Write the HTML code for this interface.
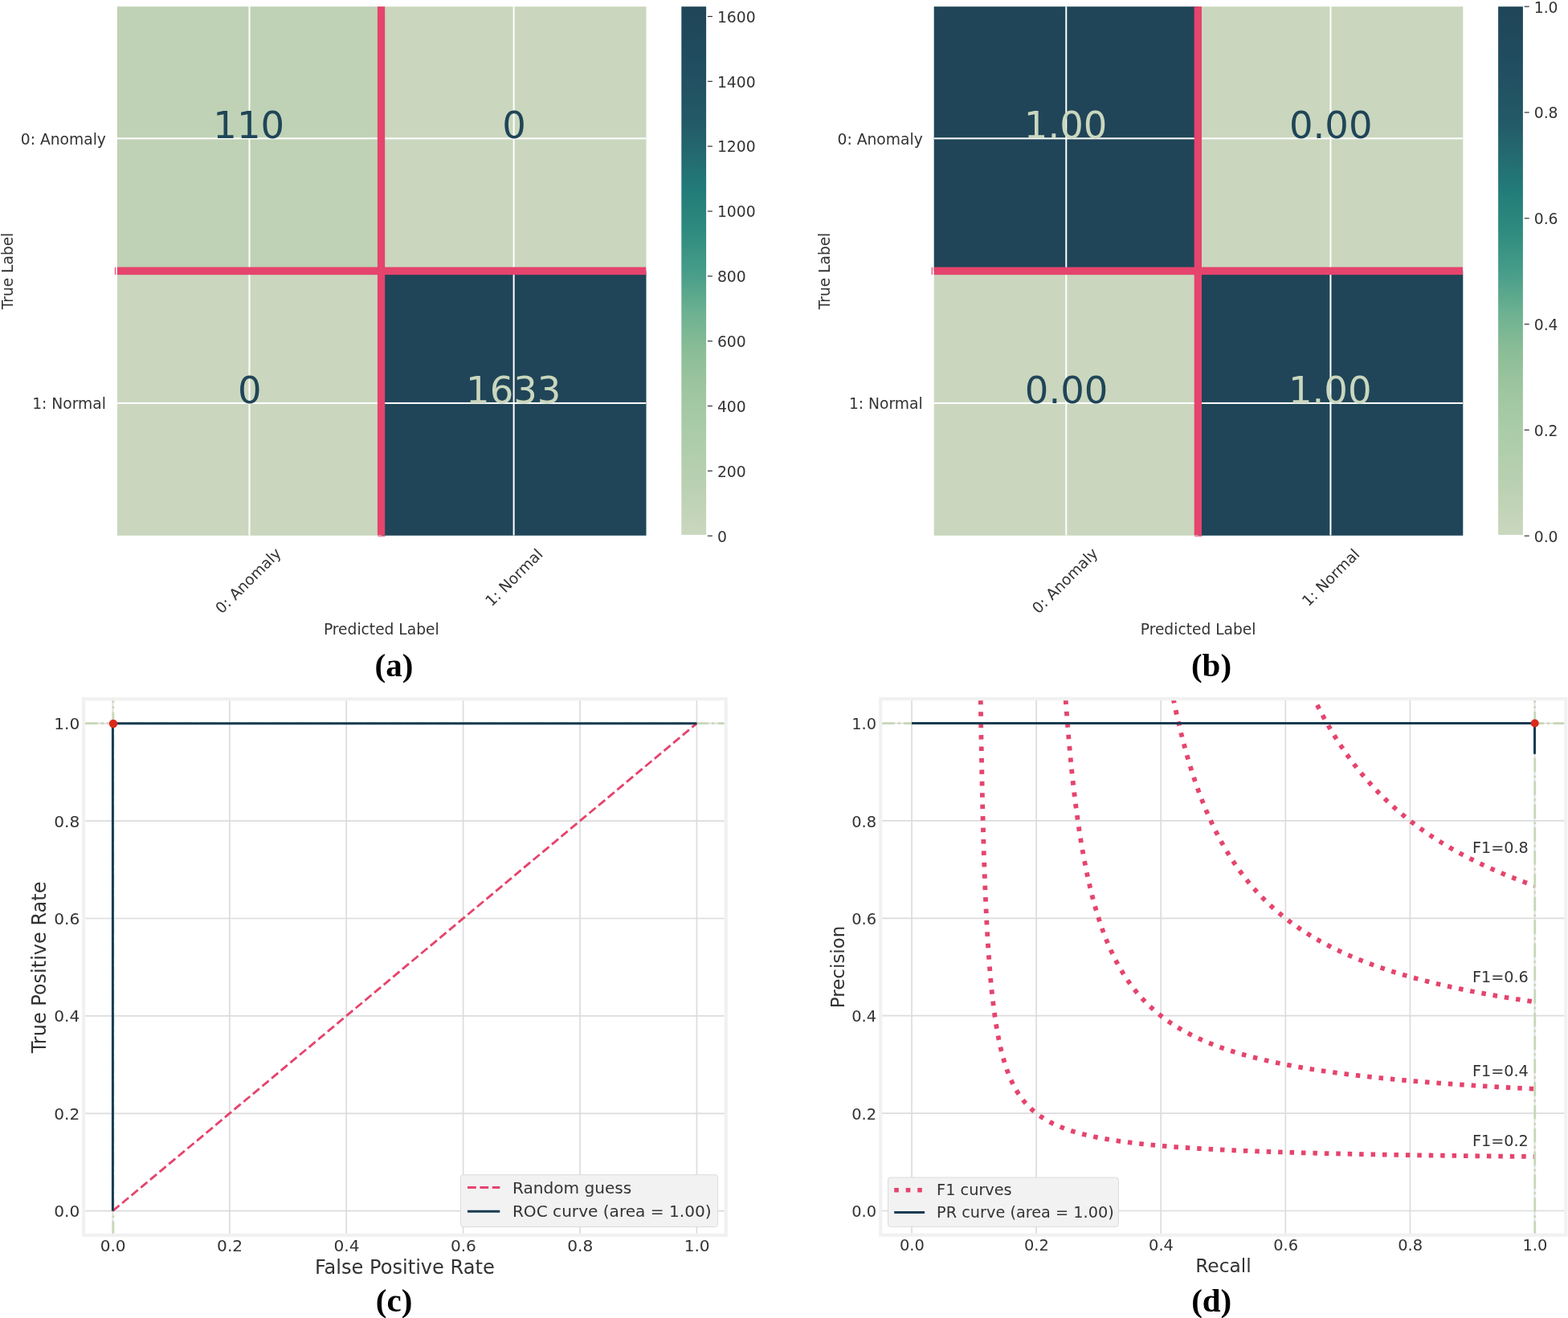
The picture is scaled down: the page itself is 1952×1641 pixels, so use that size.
<!DOCTYPE html>
<html><head><meta charset="utf-8"><title>Figure</title>
<style>html,body{margin:0;padding:0;background:#ffffff;}svg{display:block;}</style>
</head><body>
<svg width="1952" height="1641" viewBox="0 0 1952 1641" font-family="'DejaVu Sans','Liberation Sans',sans-serif">
<defs>
<linearGradient id="cbgrad" x1="0" y1="1" x2="0" y2="0">
<stop offset="0.000" stop-color="#cad7be"/>
<stop offset="0.100" stop-color="#b9d0b1"/>
<stop offset="0.200" stop-color="#aacca8"/>
<stop offset="0.270" stop-color="#9fc6a0"/>
<stop offset="0.350" stop-color="#8abd96"/>
<stop offset="0.420" stop-color="#6cb191"/>
<stop offset="0.500" stop-color="#469c89"/>
<stop offset="0.580" stop-color="#2d8a7e"/>
<stop offset="0.650" stop-color="#237c79"/>
<stop offset="0.780" stop-color="#235a67"/>
<stop offset="0.900" stop-color="#204c5f"/>
<stop offset="1.000" stop-color="#204558"/>
</linearGradient>
<clipPath id="clipc"><rect x="104.05" y="870.35" width="799.7" height="667.4999999999999"/></clipPath>
<clipPath id="clipd"><rect x="1096.2" y="870.15" width="853.0999999999999" height="667.5000000000001"/></clipPath>
</defs>
<rect x="0" y="0" width="1952" height="1641" fill="#ffffff"/>
<g id="hma">
<rect x="145.90" y="8.20" width="329.45" height="329.45" fill="#bfd2b5"/>
<rect x="475.05" y="8.20" width="329.45" height="329.45" fill="#cad7be"/>
<rect x="145.90" y="337.35" width="329.45" height="329.45" fill="#cad7be"/>
<rect x="475.05" y="337.35" width="329.45" height="329.45" fill="#204558"/>
<rect x="309.48" y="8.20" width="2" height="658.30" fill="#ffffff"/>
<rect x="638.62" y="8.20" width="2" height="658.30" fill="#ffffff"/>
<rect x="145.90" y="171.37" width="658.30" height="2" fill="#ffffff"/>
<rect x="145.90" y="500.92" width="658.30" height="2" fill="#ffffff"/>
<text x="309.72" y="172.47" font-size="46.5" text-anchor="middle" fill="#204558">110</text>
<text x="639.96" y="172.47" font-size="46.5" text-anchor="middle" fill="#204558">0</text>
<text x="310.81" y="501.62" font-size="46.5" text-anchor="middle" fill="#204558">0</text>
<text x="639.24" y="501.62" font-size="46.5" text-anchor="middle" fill="#cad7be">1633</text>
<rect x="469.90" y="8.20" width="9.3" height="658.30" fill="#e5446d"/>
<rect x="145.90" y="332.55" width="658.30" height="9.6" fill="#e5446d"/>
<rect x="142.90" y="332.75" width="1.2" height="9.2" fill="#e5446d"/>
<rect x="470.45" y="667.10" width="9.2" height="1.2" fill="#e5446d" opacity="0.7"/>
<text x="131.90" y="179.67" font-size="18.7" text-anchor="end" fill="#333333">0: Anomaly</text>
<text x="131.90" y="508.92" font-size="18.7" text-anchor="end" fill="#333333">1: Normal</text>
<text transform="translate(309.90,723.90) rotate(-45)" x="0" y="5.19" font-size="18.7" text-anchor="middle" fill="#333333">0: Anomaly</text>
<text transform="translate(639.50,718.70) rotate(-45)" x="0" y="7.01" font-size="18.7" text-anchor="middle" fill="#333333">1: Normal</text>
<text x="474.80" y="790.20" font-size="18.65" text-anchor="middle" fill="#333333">Predicted Label</text>
<text transform="translate(15.90,337.5) rotate(-90)" x="0" y="0" font-size="18.6" text-anchor="middle" fill="#333333">True Label</text>
<rect x="848.30" y="8.20" width="30.80" height="657.70" fill="url(#cbgrad)"/>
<rect x="880.90" y="666.60" width="6.0" height="1.2" fill="#333333"/>
<text x="892.90" y="674.50" font-size="18.8" text-anchor="start" fill="#333333">0</text>
<rect x="880.90" y="585.76" width="6.0" height="1.2" fill="#333333"/>
<text x="892.90" y="593.66" font-size="18.8" text-anchor="start" fill="#333333">200</text>
<rect x="880.90" y="504.92" width="6.0" height="1.2" fill="#333333"/>
<text x="892.90" y="512.82" font-size="18.8" text-anchor="start" fill="#333333">400</text>
<rect x="880.90" y="424.09" width="6.0" height="1.2" fill="#333333"/>
<text x="892.90" y="431.99" font-size="18.8" text-anchor="start" fill="#333333">600</text>
<rect x="880.90" y="343.25" width="6.0" height="1.2" fill="#333333"/>
<text x="892.90" y="351.15" font-size="18.8" text-anchor="start" fill="#333333">800</text>
<rect x="880.90" y="262.41" width="6.0" height="1.2" fill="#333333"/>
<text x="892.90" y="270.31" font-size="18.8" text-anchor="start" fill="#333333">1000</text>
<rect x="880.90" y="181.57" width="6.0" height="1.2" fill="#333333"/>
<text x="892.90" y="189.47" font-size="18.8" text-anchor="start" fill="#333333">1200</text>
<rect x="880.90" y="100.73" width="6.0" height="1.2" fill="#333333"/>
<text x="892.90" y="108.63" font-size="18.8" text-anchor="start" fill="#333333">1400</text>
<rect x="880.90" y="19.90" width="6.0" height="1.2" fill="#333333"/>
<text x="892.90" y="27.80" font-size="18.8" text-anchor="start" fill="#333333">1600</text>
</g>
<g id="hmb">
<rect x="1162.70" y="8.20" width="329.45" height="329.45" fill="#204558"/>
<rect x="1491.85" y="8.20" width="329.45" height="329.45" fill="#cad7be"/>
<rect x="1162.70" y="337.35" width="329.45" height="329.45" fill="#cad7be"/>
<rect x="1491.85" y="337.35" width="329.45" height="329.45" fill="#204558"/>
<rect x="1326.28" y="8.20" width="2" height="658.30" fill="#ffffff"/>
<rect x="1655.42" y="8.20" width="2" height="658.30" fill="#ffffff"/>
<rect x="1162.70" y="171.37" width="658.30" height="2" fill="#ffffff"/>
<rect x="1162.70" y="500.92" width="658.30" height="2" fill="#ffffff"/>
<text x="1326.58" y="172.47" font-size="46.5" text-anchor="middle" fill="#cad7be">1.00</text>
<text x="1656.78" y="172.47" font-size="46.5" text-anchor="middle" fill="#204558">0.00</text>
<text x="1327.63" y="501.62" font-size="46.5" text-anchor="middle" fill="#204558">0.00</text>
<text x="1655.73" y="501.62" font-size="46.5" text-anchor="middle" fill="#cad7be">1.00</text>
<rect x="1486.70" y="8.20" width="9.3" height="658.30" fill="#e5446d"/>
<rect x="1162.70" y="332.55" width="658.30" height="9.6" fill="#e5446d"/>
<rect x="1159.70" y="332.75" width="1.2" height="9.2" fill="#e5446d"/>
<rect x="1487.25" y="667.10" width="9.2" height="1.2" fill="#e5446d" opacity="0.7"/>
<text x="1148.70" y="179.67" font-size="18.7" text-anchor="end" fill="#333333">0: Anomaly</text>
<text x="1148.70" y="508.92" font-size="18.7" text-anchor="end" fill="#333333">1: Normal</text>
<text transform="translate(1326.70,723.90) rotate(-45)" x="0" y="5.19" font-size="18.7" text-anchor="middle" fill="#333333">0: Anomaly</text>
<text transform="translate(1656.30,718.70) rotate(-45)" x="0" y="7.01" font-size="18.7" text-anchor="middle" fill="#333333">1: Normal</text>
<text x="1491.60" y="790.20" font-size="18.65" text-anchor="middle" fill="#333333">Predicted Label</text>
<text transform="translate(1032.70,337.5) rotate(-90)" x="0" y="0" font-size="18.6" text-anchor="middle" fill="#333333">True Label</text>
<rect x="1865.10" y="8.20" width="30.80" height="657.70" fill="url(#cbgrad)"/>
<rect x="1897.70" y="666.60" width="6.0" height="1.2" fill="#333333"/>
<text x="1909.70" y="674.50" font-size="18.8" text-anchor="start" fill="#333333">0.0</text>
<rect x="1897.70" y="534.80" width="6.0" height="1.2" fill="#333333"/>
<text x="1909.70" y="542.70" font-size="18.8" text-anchor="start" fill="#333333">0.2</text>
<rect x="1897.70" y="403.00" width="6.0" height="1.2" fill="#333333"/>
<text x="1909.70" y="410.90" font-size="18.8" text-anchor="start" fill="#333333">0.4</text>
<rect x="1897.70" y="271.20" width="6.0" height="1.2" fill="#333333"/>
<text x="1909.70" y="279.10" font-size="18.8" text-anchor="start" fill="#333333">0.6</text>
<rect x="1897.70" y="139.40" width="6.0" height="1.2" fill="#333333"/>
<text x="1909.70" y="147.30" font-size="18.8" text-anchor="start" fill="#333333">0.8</text>
<rect x="1897.70" y="7.60" width="6.0" height="1.2" fill="#333333"/>
<text x="1909.70" y="15.50" font-size="18.8" text-anchor="start" fill="#333333">1.0</text>
</g>
<g id="roc">
<line x1="140.40" y1="870.35" x2="140.40" y2="1537.85" stroke="#dcdcdc" stroke-width="1.7"/>
<line x1="285.80" y1="870.35" x2="285.80" y2="1537.85" stroke="#dcdcdc" stroke-width="1.7"/>
<line x1="431.20" y1="870.35" x2="431.20" y2="1537.85" stroke="#dcdcdc" stroke-width="1.7"/>
<line x1="576.60" y1="870.35" x2="576.60" y2="1537.85" stroke="#dcdcdc" stroke-width="1.7"/>
<line x1="722.00" y1="870.35" x2="722.00" y2="1537.85" stroke="#dcdcdc" stroke-width="1.7"/>
<line x1="867.40" y1="870.35" x2="867.40" y2="1537.85" stroke="#dcdcdc" stroke-width="1.7"/>
<line x1="104.05" y1="1507.70" x2="903.75" y2="1507.70" stroke="#dcdcdc" stroke-width="1.7"/>
<line x1="104.05" y1="1386.30" x2="903.75" y2="1386.30" stroke="#dcdcdc" stroke-width="1.7"/>
<line x1="104.05" y1="1264.90" x2="903.75" y2="1264.90" stroke="#dcdcdc" stroke-width="1.7"/>
<line x1="104.05" y1="1143.50" x2="903.75" y2="1143.50" stroke="#dcdcdc" stroke-width="1.7"/>
<line x1="104.05" y1="1022.10" x2="903.75" y2="1022.10" stroke="#dcdcdc" stroke-width="1.7"/>
<line x1="104.05" y1="900.70" x2="903.75" y2="900.70" stroke="#dcdcdc" stroke-width="1.7"/>
<text x="140.70" y="1558.00" font-size="20.1" text-anchor="middle" fill="#333333">0.0</text>
<text x="99.30" y="1515.14" font-size="20.1" text-anchor="end" fill="#333333">0.0</text>
<text x="286.10" y="1558.00" font-size="20.1" text-anchor="middle" fill="#333333">0.2</text>
<text x="99.30" y="1393.74" font-size="20.1" text-anchor="end" fill="#333333">0.2</text>
<text x="431.50" y="1558.00" font-size="20.1" text-anchor="middle" fill="#333333">0.4</text>
<text x="99.30" y="1272.34" font-size="20.1" text-anchor="end" fill="#333333">0.4</text>
<text x="576.90" y="1558.00" font-size="20.1" text-anchor="middle" fill="#333333">0.6</text>
<text x="99.30" y="1150.94" font-size="20.1" text-anchor="end" fill="#333333">0.6</text>
<text x="722.30" y="1558.00" font-size="20.1" text-anchor="middle" fill="#333333">0.8</text>
<text x="99.30" y="1029.54" font-size="20.1" text-anchor="end" fill="#333333">0.8</text>
<text x="867.70" y="1558.00" font-size="20.1" text-anchor="middle" fill="#333333">1.0</text>
<text x="99.30" y="908.14" font-size="20.1" text-anchor="end" fill="#333333">1.0</text>
<g clip-path="url(#clipc)">
<line x1="140.90" y1="1537.85" x2="140.90" y2="870.35" stroke="#c6d8b8" stroke-width="2.75" stroke-dasharray="17.4 4.35 2.72 4.35"/>
<line x1="104.05" y1="900.70" x2="903.75" y2="900.70" stroke="#c6d8b8" stroke-width="2.75" stroke-dasharray="17.66 4.41 2.76 4.41"/>
<line x1="140.40" y1="1507.70" x2="867.40" y2="900.70" stroke="#e5446d" stroke-width="2.86" stroke-dasharray="10.55 4.6"/>
<path d="M140.40,1507.70 L140.40,900.70 L867.40,900.70" fill="none" stroke="#183b52" stroke-width="3" stroke-linejoin="round"/>
<circle cx="141.00" cy="900.95" r="5.2" fill="#db2a1c"/>
</g>
<rect x="104.05" y="870.35" width="799.70" height="667.50" fill="none" stroke="#f1f1f1" stroke-width="4.2"/>
<rect x="573.5" y="1462.7" width="320.1" height="64.8" rx="3" ry="3" fill="#f2f2f2" stroke="#dcdcdc" stroke-width="1"/>
<line x1="582" y1="1478.6" x2="622.3" y2="1478.6" stroke="#e5446d" stroke-width="3" stroke-dasharray="10.8 4.6"/>
<line x1="582" y1="1508.3" x2="622.3" y2="1508.3" stroke="#183b52" stroke-width="3"/>
<text x="637.90" y="1486.10" font-size="20.1" text-anchor="start" fill="#333333">Random guess</text>
<text x="637.90" y="1515.20" font-size="20.1" text-anchor="start" fill="#333333">ROC curve (area = 1.00)</text>
<text x="503.90" y="1586.30" font-size="24.1" text-anchor="middle" fill="#333333">False Positive Rate</text>
<text transform="translate(57.4,1204.4) rotate(-90)" x="0" y="0" font-size="24" text-anchor="middle" fill="#333333">True Positive Rate</text>
</g>
<g id="pr">
<line x1="1135.00" y1="870.15" x2="1135.00" y2="1537.65" stroke="#dcdcdc" stroke-width="1.7"/>
<line x1="1290.10" y1="870.15" x2="1290.10" y2="1537.65" stroke="#dcdcdc" stroke-width="1.7"/>
<line x1="1445.20" y1="870.15" x2="1445.20" y2="1537.65" stroke="#dcdcdc" stroke-width="1.7"/>
<line x1="1600.30" y1="870.15" x2="1600.30" y2="1537.65" stroke="#dcdcdc" stroke-width="1.7"/>
<line x1="1755.40" y1="870.15" x2="1755.40" y2="1537.65" stroke="#dcdcdc" stroke-width="1.7"/>
<line x1="1910.50" y1="870.15" x2="1910.50" y2="1537.65" stroke="#dcdcdc" stroke-width="1.7"/>
<line x1="1096.20" y1="1507.50" x2="1949.30" y2="1507.50" stroke="#dcdcdc" stroke-width="1.7"/>
<line x1="1096.20" y1="1386.10" x2="1949.30" y2="1386.10" stroke="#dcdcdc" stroke-width="1.7"/>
<line x1="1096.20" y1="1264.70" x2="1949.30" y2="1264.70" stroke="#dcdcdc" stroke-width="1.7"/>
<line x1="1096.20" y1="1143.30" x2="1949.30" y2="1143.30" stroke="#dcdcdc" stroke-width="1.7"/>
<line x1="1096.20" y1="1021.90" x2="1949.30" y2="1021.90" stroke="#dcdcdc" stroke-width="1.7"/>
<line x1="1096.20" y1="900.50" x2="1949.30" y2="900.50" stroke="#dcdcdc" stroke-width="1.7"/>
<text x="1135.30" y="1556.70" font-size="19.4" text-anchor="middle" fill="#333333">0.0</text>
<text x="1091.00" y="1515.28" font-size="19.4" text-anchor="end" fill="#333333">0.0</text>
<text x="1290.40" y="1556.70" font-size="19.4" text-anchor="middle" fill="#333333">0.2</text>
<text x="1091.00" y="1393.88" font-size="19.4" text-anchor="end" fill="#333333">0.2</text>
<text x="1445.50" y="1556.70" font-size="19.4" text-anchor="middle" fill="#333333">0.4</text>
<text x="1091.00" y="1272.48" font-size="19.4" text-anchor="end" fill="#333333">0.4</text>
<text x="1600.60" y="1556.70" font-size="19.4" text-anchor="middle" fill="#333333">0.6</text>
<text x="1091.00" y="1151.08" font-size="19.4" text-anchor="end" fill="#333333">0.6</text>
<text x="1755.70" y="1556.70" font-size="19.4" text-anchor="middle" fill="#333333">0.8</text>
<text x="1091.00" y="1029.68" font-size="19.4" text-anchor="end" fill="#333333">0.8</text>
<text x="1910.80" y="1556.70" font-size="19.4" text-anchor="middle" fill="#333333">1.0</text>
<text x="1091.00" y="908.28" font-size="19.4" text-anchor="end" fill="#333333">1.0</text>
<g clip-path="url(#clipd)">
<polyline points="1219.60,779.10 1221.33,910.49 1223.05,998.68 1224.78,1061.96 1226.51,1109.58 1228.24,1146.71 1229.96,1176.48 1231.69,1200.87 1233.42,1221.23 1235.15,1238.47 1236.87,1253.26 1238.60,1266.10 1240.33,1277.33 1242.05,1287.25 1243.78,1296.08 1245.51,1303.98 1247.24,1311.09 1248.96,1317.53 1250.69,1323.38 1252.42,1328.73 1254.14,1333.63 1255.87,1338.14 1257.60,1342.31 1259.33,1346.17 1261.05,1349.75 1262.78,1353.09 1264.51,1356.20 1266.24,1359.12 1267.96,1361.85 1269.69,1364.42 1271.42,1366.84 1273.14,1369.12 1274.87,1371.27 1276.60,1373.31 1278.33,1375.24 1280.05,1377.07 1281.78,1378.81 1283.51,1380.46 1285.24,1382.04 1286.96,1383.54 1288.69,1384.98 1290.42,1386.35 1292.14,1387.66 1293.87,1388.92 1295.60,1390.12 1297.33,1391.27 1299.05,1392.38 1300.78,1393.45 1302.51,1394.47 1304.24,1395.46 1305.96,1396.41 1307.69,1397.32 1309.42,1398.20 1311.14,1399.06 1312.87,1399.88 1314.60,1400.67 1316.33,1401.44 1318.05,1402.18 1319.78,1402.90 1321.51,1403.60 1323.24,1404.27 1324.96,1404.92 1326.69,1405.56 1328.42,1406.17 1330.14,1406.77 1331.87,1407.35 1333.60,1407.91 1335.33,1408.46 1337.05,1408.99 1338.78,1409.51 1340.51,1410.01 1342.23,1410.50 1343.96,1410.98 1345.69,1411.44 1347.42,1411.90 1349.14,1412.34 1350.87,1412.77 1352.60,1413.19 1354.33,1413.60 1356.05,1414.00 1357.78,1414.39 1359.51,1414.77 1361.23,1415.14 1362.96,1415.50 1364.69,1415.86 1366.42,1416.21 1368.14,1416.55 1369.87,1416.88 1371.60,1417.20 1373.33,1417.52 1375.05,1417.83 1376.78,1418.14 1378.51,1418.44 1380.23,1418.73 1381.96,1419.01 1383.69,1419.29 1385.42,1419.57 1387.14,1419.84 1388.87,1420.10 1390.60,1420.36 1392.33,1420.62 1394.05,1420.86 1395.78,1421.11 1397.51,1421.35 1399.23,1421.58 1400.96,1421.82 1402.69,1422.04 1404.42,1422.27 1406.14,1422.48 1407.87,1422.70 1409.60,1422.91 1411.32,1423.12 1413.05,1423.32 1414.78,1423.52 1416.51,1423.72 1418.23,1423.91 1419.96,1424.10 1421.69,1424.29 1423.42,1424.48 1425.14,1424.66 1426.87,1424.84 1428.60,1425.01 1430.32,1425.18 1432.05,1425.35 1433.78,1425.52 1435.51,1425.69 1437.23,1425.85 1438.96,1426.01 1440.69,1426.17 1442.42,1426.32 1444.14,1426.47 1445.87,1426.62 1447.60,1426.77 1449.32,1426.92 1451.05,1427.06 1452.78,1427.20 1454.51,1427.34 1456.23,1427.48 1457.96,1427.62 1459.69,1427.75 1461.41,1427.88 1463.14,1428.02 1464.87,1428.14 1466.60,1428.27 1468.32,1428.40 1470.05,1428.52 1471.78,1428.64 1473.51,1428.76 1475.23,1428.88 1476.96,1429.00 1478.69,1429.11 1480.41,1429.23 1482.14,1429.34 1483.87,1429.45 1485.60,1429.56 1487.32,1429.67 1489.05,1429.78 1490.78,1429.88 1492.51,1429.99 1494.23,1430.09 1495.96,1430.19 1497.69,1430.29 1499.41,1430.39 1501.14,1430.49 1502.87,1430.59 1504.60,1430.68 1506.32,1430.78 1508.05,1430.87 1509.78,1430.96 1511.51,1431.05 1513.23,1431.14 1514.96,1431.23 1516.69,1431.32 1518.41,1431.41 1520.14,1431.50 1521.87,1431.58 1523.60,1431.67 1525.32,1431.75 1527.05,1431.83 1528.78,1431.91 1530.51,1432.00 1532.23,1432.08 1533.96,1432.15 1535.69,1432.23 1537.41,1432.31 1539.14,1432.39 1540.87,1432.46 1542.60,1432.54 1544.32,1432.61 1546.05,1432.69 1547.78,1432.76 1549.50,1432.83 1551.23,1432.90 1552.96,1432.97 1554.69,1433.04 1556.41,1433.11 1558.14,1433.18 1559.87,1433.25 1561.60,1433.31 1563.32,1433.38 1565.05,1433.45 1566.78,1433.51 1568.50,1433.58 1570.23,1433.64 1571.96,1433.70 1573.69,1433.77 1575.41,1433.83 1577.14,1433.89 1578.87,1433.95 1580.60,1434.01 1582.32,1434.07 1584.05,1434.13 1585.78,1434.19 1587.50,1434.25 1589.23,1434.30 1590.96,1434.36 1592.69,1434.42 1594.41,1434.47 1596.14,1434.53 1597.87,1434.58 1599.60,1434.64 1601.32,1434.69 1603.05,1434.75 1604.78,1434.80 1606.50,1434.85 1608.23,1434.90 1609.96,1434.96 1611.69,1435.01 1613.41,1435.06 1615.14,1435.11 1616.87,1435.16 1618.59,1435.21 1620.32,1435.26 1622.05,1435.30 1623.78,1435.35 1625.50,1435.40 1627.23,1435.45 1628.96,1435.50 1630.69,1435.54 1632.41,1435.59 1634.14,1435.63 1635.87,1435.68 1637.59,1435.73 1639.32,1435.77 1641.05,1435.81 1642.78,1435.86 1644.50,1435.90 1646.23,1435.95 1647.96,1435.99 1649.69,1436.03 1651.41,1436.07 1653.14,1436.12 1654.87,1436.16 1656.59,1436.20 1658.32,1436.24 1660.05,1436.28 1661.78,1436.32 1663.50,1436.36 1665.23,1436.40 1666.96,1436.44 1668.68,1436.48 1670.41,1436.52 1672.14,1436.56 1673.87,1436.60 1675.59,1436.63 1677.32,1436.67 1679.05,1436.71 1680.78,1436.75 1682.50,1436.78 1684.23,1436.82 1685.96,1436.86 1687.68,1436.89 1689.41,1436.93 1691.14,1436.96 1692.87,1437.00 1694.59,1437.03 1696.32,1437.07 1698.05,1437.10 1699.78,1437.14 1701.50,1437.17 1703.23,1437.21 1704.96,1437.24 1706.68,1437.27 1708.41,1437.31 1710.14,1437.34 1711.87,1437.37 1713.59,1437.41 1715.32,1437.44 1717.05,1437.47 1718.78,1437.50 1720.50,1437.53 1722.23,1437.56 1723.96,1437.60 1725.68,1437.63 1727.41,1437.66 1729.14,1437.69 1730.87,1437.72 1732.59,1437.75 1734.32,1437.78 1736.05,1437.81 1737.78,1437.84 1739.50,1437.87 1741.23,1437.90 1742.96,1437.93 1744.68,1437.95 1746.41,1437.98 1748.14,1438.01 1749.87,1438.04 1751.59,1438.07 1753.32,1438.10 1755.05,1438.12 1756.77,1438.15 1758.50,1438.18 1760.23,1438.21 1761.96,1438.23 1763.68,1438.26 1765.41,1438.29 1767.14,1438.31 1768.87,1438.34 1770.59,1438.36 1772.32,1438.39 1774.05,1438.42 1775.77,1438.44 1777.50,1438.47 1779.23,1438.49 1780.96,1438.52 1782.68,1438.54 1784.41,1438.57 1786.14,1438.59 1787.87,1438.62 1789.59,1438.64 1791.32,1438.67 1793.05,1438.69 1794.77,1438.71 1796.50,1438.74 1798.23,1438.76 1799.96,1438.79 1801.68,1438.81 1803.41,1438.83 1805.14,1438.86 1806.87,1438.88 1808.59,1438.90 1810.32,1438.93 1812.05,1438.95 1813.77,1438.97 1815.50,1438.99 1817.23,1439.02 1818.96,1439.04 1820.68,1439.06 1822.41,1439.08 1824.14,1439.10 1825.86,1439.12 1827.59,1439.15 1829.32,1439.17 1831.05,1439.19 1832.77,1439.21 1834.50,1439.23 1836.23,1439.25 1837.96,1439.27 1839.68,1439.29 1841.41,1439.31 1843.14,1439.34 1844.86,1439.36 1846.59,1439.38 1848.32,1439.40 1850.05,1439.42 1851.77,1439.44 1853.50,1439.46 1855.23,1439.48 1856.96,1439.50 1858.68,1439.51 1860.41,1439.53 1862.14,1439.55 1863.86,1439.57 1865.59,1439.59 1867.32,1439.61 1869.05,1439.63 1870.77,1439.65 1872.50,1439.67 1874.23,1439.69 1875.95,1439.70 1877.68,1439.72 1879.41,1439.74 1881.14,1439.76 1882.86,1439.78 1884.59,1439.80 1886.32,1439.81 1888.05,1439.83 1889.77,1439.85 1891.50,1439.87 1893.23,1439.88 1894.95,1439.90 1896.68,1439.92 1898.41,1439.94 1900.14,1439.95 1901.86,1439.97 1903.59,1439.99 1905.32,1440.01 1907.05,1440.02 1908.77,1440.04 1910.50,1440.06" fill="none" stroke="#e5446d" stroke-width="5.8" stroke-dasharray="5.5 8.935" stroke-dashoffset="8.33"/>
<polyline points="1321.12,779.10 1322.59,806.63 1324.07,831.76 1325.54,854.81 1327.01,876.02 1328.49,895.59 1329.96,913.73 1331.43,930.57 1332.91,946.24 1334.38,960.88 1335.85,974.57 1337.33,987.41 1338.80,999.48 1340.27,1010.83 1341.75,1021.54 1343.22,1031.65 1344.70,1041.21 1346.17,1050.28 1347.64,1058.88 1349.12,1067.05 1350.59,1074.82 1352.06,1082.22 1353.54,1089.28 1355.01,1096.02 1356.48,1102.46 1357.96,1108.61 1359.43,1114.51 1360.90,1120.16 1362.38,1125.58 1363.85,1130.79 1365.32,1135.79 1366.80,1140.60 1368.27,1145.23 1369.74,1149.68 1371.22,1153.98 1372.69,1158.12 1374.16,1162.11 1375.64,1165.97 1377.11,1169.70 1378.58,1173.30 1380.06,1176.79 1381.53,1180.16 1383.00,1183.43 1384.48,1186.59 1385.95,1189.66 1387.43,1192.63 1388.90,1195.52 1390.37,1198.32 1391.85,1201.04 1393.32,1203.68 1394.79,1206.25 1396.27,1208.74 1397.74,1211.17 1399.21,1213.53 1400.69,1215.83 1402.16,1218.07 1403.63,1220.25 1405.11,1222.38 1406.58,1224.45 1408.05,1226.47 1409.53,1228.44 1411.00,1230.36 1412.47,1232.23 1413.95,1234.06 1415.42,1235.85 1416.89,1237.60 1418.37,1239.30 1419.84,1240.97 1421.31,1242.60 1422.79,1244.19 1424.26,1245.75 1425.73,1247.28 1427.21,1248.77 1428.68,1250.23 1430.16,1251.66 1431.63,1253.06 1433.10,1254.43 1434.58,1255.77 1436.05,1257.09 1437.52,1258.38 1439.00,1259.64 1440.47,1260.88 1441.94,1262.10 1443.42,1263.29 1444.89,1264.46 1446.36,1265.60 1447.84,1266.73 1449.31,1267.83 1450.78,1268.92 1452.26,1269.98 1453.73,1271.03 1455.20,1272.06 1456.68,1273.06 1458.15,1274.06 1459.62,1275.03 1461.10,1275.99 1462.57,1276.93 1464.04,1277.85 1465.52,1278.76 1466.99,1279.66 1468.46,1280.53 1469.94,1281.40 1471.41,1282.25 1472.89,1283.09 1474.36,1283.91 1475.83,1284.72 1477.31,1285.52 1478.78,1286.31 1480.25,1287.08 1481.73,1287.84 1483.20,1288.59 1484.67,1289.33 1486.15,1290.06 1487.62,1290.77 1489.09,1291.48 1490.57,1292.17 1492.04,1292.86 1493.51,1293.53 1494.99,1294.20 1496.46,1294.86 1497.93,1295.50 1499.41,1296.14 1500.88,1296.77 1502.35,1297.39 1503.83,1298.00 1505.30,1298.60 1506.77,1299.20 1508.25,1299.79 1509.72,1300.37 1511.20,1300.94 1512.67,1301.50 1514.14,1302.06 1515.62,1302.61 1517.09,1303.15 1518.56,1303.68 1520.04,1304.21 1521.51,1304.73 1522.98,1305.25 1524.46,1305.76 1525.93,1306.26 1527.40,1306.75 1528.88,1307.24 1530.35,1307.73 1531.82,1308.20 1533.30,1308.68 1534.77,1309.14 1536.24,1309.60 1537.72,1310.06 1539.19,1310.51 1540.66,1310.95 1542.14,1311.39 1543.61,1311.83 1545.08,1312.26 1546.56,1312.68 1548.03,1313.10 1549.50,1313.51 1550.98,1313.92 1552.45,1314.33 1553.93,1314.73 1555.40,1315.13 1556.87,1315.52 1558.35,1315.91 1559.82,1316.29 1561.29,1316.67 1562.77,1317.04 1564.24,1317.42 1565.71,1317.78 1567.19,1318.15 1568.66,1318.51 1570.13,1318.86 1571.61,1319.21 1573.08,1319.56 1574.55,1319.91 1576.03,1320.25 1577.50,1320.58 1578.97,1320.92 1580.45,1321.25 1581.92,1321.58 1583.39,1321.90 1584.87,1322.22 1586.34,1322.54 1587.81,1322.85 1589.29,1323.17 1590.76,1323.47 1592.23,1323.78 1593.71,1324.08 1595.18,1324.38 1596.66,1324.68 1598.13,1324.97 1599.60,1325.26 1601.08,1325.55 1602.55,1325.84 1604.02,1326.12 1605.50,1326.40 1606.97,1326.68 1608.44,1326.95 1609.92,1327.23 1611.39,1327.50 1612.86,1327.76 1614.34,1328.03 1615.81,1328.29 1617.28,1328.55 1618.76,1328.81 1620.23,1329.06 1621.70,1329.32 1623.18,1329.57 1624.65,1329.82 1626.12,1330.06 1627.60,1330.31 1629.07,1330.55 1630.54,1330.79 1632.02,1331.03 1633.49,1331.27 1634.96,1331.50 1636.44,1331.73 1637.91,1331.96 1639.39,1332.19 1640.86,1332.42 1642.33,1332.64 1643.81,1332.87 1645.28,1333.09 1646.75,1333.31 1648.23,1333.52 1649.70,1333.74 1651.17,1333.95 1652.65,1334.16 1654.12,1334.37 1655.59,1334.58 1657.07,1334.79 1658.54,1334.99 1660.01,1335.20 1661.49,1335.40 1662.96,1335.60 1664.43,1335.80 1665.91,1336.00 1667.38,1336.19 1668.85,1336.39 1670.33,1336.58 1671.80,1336.77 1673.27,1336.96 1674.75,1337.15 1676.22,1337.34 1677.69,1337.52 1679.17,1337.70 1680.64,1337.89 1682.12,1338.07 1683.59,1338.25 1685.06,1338.43 1686.54,1338.60 1688.01,1338.78 1689.48,1338.95 1690.96,1339.13 1692.43,1339.30 1693.90,1339.47 1695.38,1339.64 1696.85,1339.81 1698.32,1339.98 1699.80,1340.14 1701.27,1340.31 1702.74,1340.47 1704.22,1340.63 1705.69,1340.79 1707.16,1340.95 1708.64,1341.11 1710.11,1341.27 1711.58,1341.43 1713.06,1341.58 1714.53,1341.74 1716.00,1341.89 1717.48,1342.04 1718.95,1342.19 1720.42,1342.34 1721.90,1342.49 1723.37,1342.64 1724.85,1342.79 1726.32,1342.94 1727.79,1343.08 1729.27,1343.23 1730.74,1343.37 1732.21,1343.51 1733.69,1343.65 1735.16,1343.79 1736.63,1343.93 1738.11,1344.07 1739.58,1344.21 1741.05,1344.35 1742.53,1344.48 1744.00,1344.62 1745.47,1344.75 1746.95,1344.88 1748.42,1345.02 1749.89,1345.15 1751.37,1345.28 1752.84,1345.41 1754.31,1345.54 1755.79,1345.67 1757.26,1345.79 1758.73,1345.92 1760.21,1346.05 1761.68,1346.17 1763.15,1346.30 1764.63,1346.42 1766.10,1346.54 1767.58,1346.67 1769.05,1346.79 1770.52,1346.91 1772.00,1347.03 1773.47,1347.15 1774.94,1347.26 1776.42,1347.38 1777.89,1347.50 1779.36,1347.62 1780.84,1347.73 1782.31,1347.85 1783.78,1347.96 1785.26,1348.07 1786.73,1348.19 1788.20,1348.30 1789.68,1348.41 1791.15,1348.52 1792.62,1348.63 1794.10,1348.74 1795.57,1348.85 1797.04,1348.96 1798.52,1349.07 1799.99,1349.17 1801.46,1349.28 1802.94,1349.38 1804.41,1349.49 1805.89,1349.59 1807.36,1349.70 1808.83,1349.80 1810.31,1349.90 1811.78,1350.01 1813.25,1350.11 1814.73,1350.21 1816.20,1350.31 1817.67,1350.41 1819.15,1350.51 1820.62,1350.61 1822.09,1350.71 1823.57,1350.80 1825.04,1350.90 1826.51,1351.00 1827.99,1351.09 1829.46,1351.19 1830.93,1351.28 1832.41,1351.38 1833.88,1351.47 1835.35,1351.57 1836.83,1351.66 1838.30,1351.75 1839.77,1351.84 1841.25,1351.94 1842.72,1352.03 1844.19,1352.12 1845.67,1352.21 1847.14,1352.30 1848.62,1352.39 1850.09,1352.48 1851.56,1352.56 1853.04,1352.65 1854.51,1352.74 1855.98,1352.83 1857.46,1352.91 1858.93,1353.00 1860.40,1353.08 1861.88,1353.17 1863.35,1353.25 1864.82,1353.34 1866.30,1353.42 1867.77,1353.51 1869.24,1353.59 1870.72,1353.67 1872.19,1353.75 1873.66,1353.83 1875.14,1353.92 1876.61,1354.00 1878.08,1354.08 1879.56,1354.16 1881.03,1354.24 1882.50,1354.32 1883.98,1354.39 1885.45,1354.47 1886.92,1354.55 1888.40,1354.63 1889.87,1354.71 1891.35,1354.78 1892.82,1354.86 1894.29,1354.94 1895.77,1355.01 1897.24,1355.09 1898.71,1355.16 1900.19,1355.24 1901.66,1355.31 1903.13,1355.39 1904.61,1355.46 1906.08,1355.53 1907.55,1355.61 1909.03,1355.68 1910.50,1355.75" fill="none" stroke="#e5446d" stroke-width="5.8" stroke-dasharray="5.5 8.935" stroke-dashoffset="8.47"/>
<polyline points="1445.20,779.10 1446.36,787.17 1447.53,795.01 1448.69,802.62 1449.85,810.02 1451.02,817.21 1452.18,824.21 1453.34,831.01 1454.51,837.63 1455.67,844.08 1456.83,850.36 1458.00,856.47 1459.16,862.43 1460.32,868.25 1461.49,873.91 1462.65,879.44 1463.81,884.84 1464.98,890.10 1466.14,895.24 1467.30,900.26 1468.47,905.17 1469.63,909.96 1470.79,914.65 1471.95,919.23 1473.12,923.71 1474.28,928.09 1475.44,932.38 1476.61,936.57 1477.77,940.68 1478.93,944.70 1480.10,948.64 1481.26,952.50 1482.42,956.28 1483.59,959.98 1484.75,963.61 1485.91,967.17 1487.08,970.66 1488.24,974.08 1489.40,977.44 1490.57,980.73 1491.73,983.96 1492.89,987.13 1494.06,990.25 1495.22,993.30 1496.38,996.30 1497.55,999.25 1498.71,1002.15 1499.87,1004.99 1501.04,1007.78 1502.20,1010.53 1503.36,1013.23 1504.53,1015.88 1505.69,1018.49 1506.85,1021.05 1508.02,1023.58 1509.18,1026.06 1510.34,1028.50 1511.51,1030.90 1512.67,1033.26 1513.83,1035.59 1514.99,1037.87 1516.16,1040.13 1517.32,1042.34 1518.48,1044.53 1519.65,1046.68 1520.81,1048.79 1521.97,1050.88 1523.14,1052.93 1524.30,1054.95 1525.46,1056.95 1526.63,1058.91 1527.79,1060.85 1528.95,1062.76 1530.12,1064.64 1531.28,1066.49 1532.44,1068.32 1533.61,1070.12 1534.77,1071.90 1535.93,1073.65 1537.10,1075.38 1538.26,1077.08 1539.42,1078.76 1540.59,1080.42 1541.75,1082.06 1542.91,1083.67 1544.08,1085.27 1545.24,1086.84 1546.40,1088.39 1547.57,1089.93 1548.73,1091.44 1549.89,1092.93 1551.06,1094.41 1552.22,1095.86 1553.38,1097.30 1554.55,1098.72 1555.71,1100.12 1556.87,1101.51 1558.04,1102.87 1559.20,1104.23 1560.36,1105.56 1561.53,1106.88 1562.69,1108.18 1563.85,1109.47 1565.01,1110.74 1566.18,1112.00 1567.34,1113.24 1568.50,1114.47 1569.67,1115.69 1570.83,1116.89 1571.99,1118.08 1573.16,1119.25 1574.32,1120.41 1575.48,1121.56 1576.65,1122.69 1577.81,1123.81 1578.97,1124.92 1580.14,1126.02 1581.30,1127.11 1582.46,1128.18 1583.63,1129.24 1584.79,1130.29 1585.95,1131.33 1587.12,1132.36 1588.28,1133.38 1589.44,1134.39 1590.61,1135.38 1591.77,1136.37 1592.93,1137.34 1594.10,1138.31 1595.26,1139.27 1596.42,1140.21 1597.59,1141.15 1598.75,1142.08 1599.91,1143.00 1601.08,1143.90 1602.24,1144.80 1603.40,1145.70 1604.57,1146.58 1605.73,1147.45 1606.89,1148.32 1608.06,1149.17 1609.22,1150.02 1610.38,1150.86 1611.54,1151.70 1612.71,1152.52 1613.87,1153.34 1615.03,1154.15 1616.20,1154.95 1617.36,1155.74 1618.52,1156.53 1619.69,1157.31 1620.85,1158.08 1622.01,1158.85 1623.18,1159.60 1624.34,1160.35 1625.50,1161.10 1626.67,1161.84 1627.83,1162.57 1628.99,1163.29 1630.16,1164.01 1631.32,1164.72 1632.48,1165.43 1633.65,1166.13 1634.81,1166.82 1635.97,1167.51 1637.14,1168.19 1638.30,1168.87 1639.46,1169.54 1640.63,1170.20 1641.79,1170.86 1642.95,1171.51 1644.12,1172.16 1645.28,1172.80 1646.44,1173.44 1647.61,1174.07 1648.77,1174.70 1649.93,1175.32 1651.10,1175.93 1652.26,1176.54 1653.42,1177.15 1654.59,1177.75 1655.75,1178.35 1656.91,1178.94 1658.07,1179.53 1659.24,1180.11 1660.40,1180.68 1661.56,1181.26 1662.73,1181.83 1663.89,1182.39 1665.05,1182.95 1666.22,1183.50 1667.38,1184.05 1668.54,1184.60 1669.71,1185.14 1670.87,1185.68 1672.03,1186.22 1673.20,1186.75 1674.36,1187.27 1675.52,1187.79 1676.69,1188.31 1677.85,1188.83 1679.01,1189.34 1680.18,1189.84 1681.34,1190.34 1682.50,1190.84 1683.67,1191.34 1684.83,1191.83 1685.99,1192.32 1687.16,1192.80 1688.32,1193.28 1689.48,1193.76 1690.65,1194.24 1691.81,1194.71 1692.97,1195.17 1694.14,1195.64 1695.30,1196.10 1696.46,1196.56 1697.63,1197.01 1698.79,1197.46 1699.95,1197.91 1701.12,1198.35 1702.28,1198.80 1703.44,1199.23 1704.60,1199.67 1705.77,1200.10 1706.93,1200.53 1708.09,1200.96 1709.26,1201.38 1710.42,1201.80 1711.58,1202.22 1712.75,1202.64 1713.91,1203.05 1715.07,1203.46 1716.24,1203.86 1717.40,1204.27 1718.56,1204.67 1719.73,1205.07 1720.89,1205.47 1722.05,1205.86 1723.22,1206.25 1724.38,1206.64 1725.54,1207.03 1726.71,1207.41 1727.87,1207.79 1729.03,1208.17 1730.20,1208.54 1731.36,1208.92 1732.52,1209.29 1733.69,1209.66 1734.85,1210.03 1736.01,1210.39 1737.18,1210.75 1738.34,1211.11 1739.50,1211.47 1740.67,1211.82 1741.83,1212.18 1742.99,1212.53 1744.16,1212.88 1745.32,1213.22 1746.48,1213.57 1747.64,1213.91 1748.81,1214.25 1749.97,1214.59 1751.13,1214.92 1752.30,1215.26 1753.46,1215.59 1754.62,1215.92 1755.79,1216.25 1756.95,1216.58 1758.11,1216.90 1759.28,1217.22 1760.44,1217.54 1761.60,1217.86 1762.77,1218.18 1763.93,1218.49 1765.09,1218.80 1766.26,1219.12 1767.42,1219.43 1768.58,1219.73 1769.75,1220.04 1770.91,1220.34 1772.07,1220.64 1773.24,1220.94 1774.40,1221.24 1775.56,1221.54 1776.73,1221.84 1777.89,1222.13 1779.05,1222.42 1780.22,1222.71 1781.38,1223.00 1782.54,1223.29 1783.71,1223.57 1784.87,1223.86 1786.03,1224.14 1787.20,1224.42 1788.36,1224.70 1789.52,1224.98 1790.69,1225.25 1791.85,1225.53 1793.01,1225.80 1794.18,1226.07 1795.34,1226.34 1796.50,1226.61 1797.66,1226.88 1798.83,1227.14 1799.99,1227.41 1801.15,1227.67 1802.32,1227.93 1803.48,1228.19 1804.64,1228.45 1805.81,1228.71 1806.97,1228.97 1808.13,1229.22 1809.30,1229.47 1810.46,1229.73 1811.62,1229.98 1812.79,1230.23 1813.95,1230.47 1815.11,1230.72 1816.28,1230.97 1817.44,1231.21 1818.60,1231.45 1819.77,1231.70 1820.93,1231.94 1822.09,1232.17 1823.26,1232.41 1824.42,1232.65 1825.58,1232.89 1826.75,1233.12 1827.91,1233.35 1829.07,1233.58 1830.24,1233.82 1831.40,1234.05 1832.56,1234.27 1833.73,1234.50 1834.89,1234.73 1836.05,1234.95 1837.22,1235.18 1838.38,1235.40 1839.54,1235.62 1840.70,1235.84 1841.87,1236.06 1843.03,1236.28 1844.19,1236.50 1845.36,1236.71 1846.52,1236.93 1847.68,1237.14 1848.85,1237.36 1850.01,1237.57 1851.17,1237.78 1852.34,1237.99 1853.50,1238.20 1854.66,1238.41 1855.83,1238.62 1856.99,1238.82 1858.15,1239.03 1859.32,1239.23 1860.48,1239.44 1861.64,1239.64 1862.81,1239.84 1863.97,1240.04 1865.13,1240.24 1866.30,1240.44 1867.46,1240.64 1868.62,1240.83 1869.79,1241.03 1870.95,1241.22 1872.11,1241.42 1873.28,1241.61 1874.44,1241.80 1875.60,1242.00 1876.77,1242.19 1877.93,1242.38 1879.09,1242.56 1880.26,1242.75 1881.42,1242.94 1882.58,1243.13 1883.75,1243.31 1884.91,1243.50 1886.07,1243.68 1887.24,1243.86 1888.40,1244.04 1889.56,1244.23 1890.72,1244.41 1891.89,1244.59 1893.05,1244.77 1894.21,1244.94 1895.38,1245.12 1896.54,1245.30 1897.70,1245.47 1898.87,1245.65 1900.03,1245.82 1901.19,1246.00 1902.36,1246.17 1903.52,1246.34 1904.68,1246.51 1905.85,1246.68 1907.01,1246.85 1908.17,1247.02 1909.34,1247.19 1910.50,1247.36" fill="none" stroke="#e5446d" stroke-width="5.8" stroke-dasharray="5.5 8.935" stroke-dashoffset="8.74"/>
<polyline points="1600.30,779.10 1601.08,781.52 1601.85,783.91 1602.63,786.28 1603.40,788.62 1604.18,790.94 1604.95,793.24 1605.73,795.52 1606.50,797.78 1607.28,800.01 1608.06,802.22 1608.83,804.42 1609.61,806.59 1610.38,808.74 1611.16,810.87 1611.93,812.98 1612.71,815.07 1613.48,817.14 1614.26,819.20 1615.03,821.23 1615.81,823.25 1616.59,825.24 1617.36,827.22 1618.14,829.18 1618.91,831.13 1619.69,833.06 1620.46,834.97 1621.24,836.86 1622.01,838.74 1622.79,840.60 1623.57,842.44 1624.34,844.27 1625.12,846.08 1625.89,847.88 1626.67,849.66 1627.44,851.42 1628.22,853.17 1628.99,854.91 1629.77,856.63 1630.54,858.34 1631.32,860.03 1632.10,861.71 1632.87,863.38 1633.65,865.03 1634.42,866.67 1635.20,868.29 1635.97,869.90 1636.75,871.50 1637.52,873.09 1638.30,874.66 1639.08,876.22 1639.85,877.77 1640.63,879.30 1641.40,880.83 1642.18,882.34 1642.95,883.84 1643.73,885.32 1644.50,886.80 1645.28,888.27 1646.05,889.72 1646.83,891.16 1647.61,892.59 1648.38,894.01 1649.16,895.42 1649.93,896.82 1650.71,898.21 1651.48,899.59 1652.26,900.95 1653.03,902.31 1653.81,903.66 1654.59,905.00 1655.36,906.32 1656.14,907.64 1656.91,908.95 1657.69,910.25 1658.46,911.54 1659.24,912.82 1660.01,914.09 1660.79,915.35 1661.56,916.60 1662.34,917.84 1663.12,919.08 1663.89,920.30 1664.67,921.52 1665.44,922.73 1666.22,923.93 1666.99,925.12 1667.77,926.30 1668.54,927.48 1669.32,928.64 1670.09,929.80 1670.87,930.95 1671.65,932.10 1672.42,933.23 1673.20,934.36 1673.97,935.48 1674.75,936.59 1675.52,937.70 1676.30,938.79 1677.07,939.88 1677.85,940.97 1678.63,942.04 1679.40,943.11 1680.18,944.17 1680.95,945.23 1681.73,946.27 1682.50,947.31 1683.28,948.35 1684.05,949.38 1684.83,950.40 1685.61,951.41 1686.38,952.42 1687.16,953.42 1687.93,954.41 1688.71,955.40 1689.48,956.38 1690.26,957.36 1691.03,958.33 1691.81,959.29 1692.58,960.25 1693.36,961.20 1694.14,962.15 1694.91,963.09 1695.69,964.02 1696.46,964.95 1697.24,965.87 1698.01,966.79 1698.79,967.70 1699.56,968.60 1700.34,969.50 1701.12,970.40 1701.89,971.29 1702.67,972.17 1703.44,973.05 1704.22,973.92 1704.99,974.79 1705.77,975.65 1706.54,976.51 1707.32,977.36 1708.09,978.21 1708.87,979.05 1709.65,979.89 1710.42,980.72 1711.20,981.55 1711.97,982.37 1712.75,983.19 1713.52,984.01 1714.30,984.82 1715.07,985.62 1715.85,986.42 1716.62,987.21 1717.40,988.00 1718.18,988.79 1718.95,989.57 1719.73,990.35 1720.50,991.12 1721.28,991.89 1722.05,992.66 1722.83,993.42 1723.60,994.17 1724.38,994.92 1725.16,995.67 1725.93,996.41 1726.71,997.15 1727.48,997.89 1728.26,998.62 1729.03,999.34 1729.81,1000.07 1730.58,1000.79 1731.36,1001.50 1732.13,1002.21 1732.91,1002.92 1733.69,1003.62 1734.46,1004.32 1735.24,1005.02 1736.01,1005.71 1736.79,1006.40 1737.56,1007.09 1738.34,1007.77 1739.11,1008.45 1739.89,1009.12 1740.67,1009.79 1741.44,1010.46 1742.22,1011.12 1742.99,1011.78 1743.77,1012.44 1744.54,1013.09 1745.32,1013.74 1746.09,1014.39 1746.87,1015.03 1747.64,1015.67 1748.42,1016.31 1749.20,1016.94 1749.97,1017.58 1750.75,1018.20 1751.52,1018.83 1752.30,1019.45 1753.07,1020.07 1753.85,1020.68 1754.62,1021.29 1755.40,1021.90 1756.18,1022.51 1756.95,1023.11 1757.73,1023.71 1758.50,1024.30 1759.28,1024.90 1760.05,1025.49 1760.83,1026.08 1761.60,1026.66 1762.38,1027.24 1763.15,1027.82 1763.93,1028.40 1764.71,1028.97 1765.48,1029.54 1766.26,1030.11 1767.03,1030.68 1767.81,1031.24 1768.58,1031.80 1769.36,1032.36 1770.13,1032.91 1770.91,1033.46 1771.69,1034.01 1772.46,1034.56 1773.24,1035.10 1774.01,1035.64 1774.79,1036.18 1775.56,1036.72 1776.34,1037.25 1777.11,1037.78 1777.89,1038.31 1778.66,1038.84 1779.44,1039.36 1780.22,1039.89 1780.99,1040.40 1781.77,1040.92 1782.54,1041.44 1783.32,1041.95 1784.09,1042.46 1784.87,1042.96 1785.64,1043.47 1786.42,1043.97 1787.20,1044.47 1787.97,1044.97 1788.75,1045.47 1789.52,1045.96 1790.30,1046.45 1791.07,1046.94 1791.85,1047.43 1792.62,1047.91 1793.40,1048.40 1794.17,1048.88 1794.95,1049.36 1795.73,1049.83 1796.50,1050.31 1797.28,1050.78 1798.05,1051.25 1798.83,1051.72 1799.60,1052.18 1800.38,1052.65 1801.15,1053.11 1801.93,1053.57 1802.71,1054.03 1803.48,1054.48 1804.26,1054.94 1805.03,1055.39 1805.81,1055.84 1806.58,1056.29 1807.36,1056.73 1808.13,1057.18 1808.91,1057.62 1809.68,1058.06 1810.46,1058.50 1811.24,1058.94 1812.01,1059.37 1812.79,1059.81 1813.56,1060.24 1814.34,1060.67 1815.11,1061.09 1815.89,1061.52 1816.66,1061.94 1817.44,1062.37 1818.22,1062.79 1818.99,1063.21 1819.77,1063.62 1820.54,1064.04 1821.32,1064.45 1822.09,1064.86 1822.87,1065.27 1823.64,1065.68 1824.42,1066.09 1825.19,1066.50 1825.97,1066.90 1826.75,1067.30 1827.52,1067.70 1828.30,1068.10 1829.07,1068.50 1829.85,1068.89 1830.62,1069.29 1831.40,1069.68 1832.17,1070.07 1832.95,1070.46 1833.73,1070.85 1834.50,1071.23 1835.28,1071.62 1836.05,1072.00 1836.83,1072.38 1837.60,1072.76 1838.38,1073.14 1839.15,1073.52 1839.93,1073.89 1840.70,1074.27 1841.48,1074.64 1842.26,1075.01 1843.03,1075.38 1843.81,1075.75 1844.58,1076.12 1845.36,1076.48 1846.13,1076.85 1846.91,1077.21 1847.68,1077.57 1848.46,1077.93 1849.24,1078.29 1850.01,1078.65 1850.79,1079.00 1851.56,1079.36 1852.34,1079.71 1853.11,1080.06 1853.89,1080.41 1854.66,1080.76 1855.44,1081.11 1856.21,1081.45 1856.99,1081.80 1857.77,1082.14 1858.54,1082.49 1859.32,1082.83 1860.09,1083.17 1860.87,1083.51 1861.64,1083.84 1862.42,1084.18 1863.19,1084.51 1863.97,1084.85 1864.75,1085.18 1865.52,1085.51 1866.30,1085.84 1867.07,1086.17 1867.85,1086.50 1868.62,1086.82 1869.40,1087.15 1870.17,1087.47 1870.95,1087.80 1871.72,1088.12 1872.50,1088.44 1873.28,1088.76 1874.05,1089.08 1874.83,1089.39 1875.60,1089.71 1876.38,1090.02 1877.15,1090.34 1877.93,1090.65 1878.70,1090.96 1879.48,1091.27 1880.26,1091.58 1881.03,1091.89 1881.81,1092.20 1882.58,1092.50 1883.36,1092.81 1884.13,1093.11 1884.91,1093.41 1885.68,1093.71 1886.46,1094.01 1887.24,1094.31 1888.01,1094.61 1888.79,1094.91 1889.56,1095.21 1890.34,1095.50 1891.11,1095.80 1891.89,1096.09 1892.66,1096.38 1893.44,1096.67 1894.21,1096.96 1894.99,1097.25 1895.77,1097.54 1896.54,1097.83 1897.32,1098.11 1898.09,1098.40 1898.87,1098.68 1899.64,1098.97 1900.42,1099.25 1901.19,1099.53 1901.97,1099.81 1902.74,1100.09 1903.52,1100.37 1904.30,1100.65 1905.07,1100.92 1905.85,1101.20 1906.62,1101.47 1907.40,1101.75 1908.17,1102.02 1908.95,1102.29 1909.72,1102.56 1910.50,1102.83" fill="none" stroke="#e5446d" stroke-width="5.8" stroke-dasharray="5.5 8.935" stroke-dashoffset="9.18"/>
<line x1="1910.80" y1="1537.65" x2="1910.80" y2="870.15" stroke="#c6d8b8" stroke-width="2.75" stroke-dasharray="17.4 4.35 2.72 4.35"/>
<line x1="1096.20" y1="900.50" x2="1949.30" y2="900.50" stroke="#c6d8b8" stroke-width="2.75" stroke-dasharray="17.43 4.36 2.72 4.36"/>
<path d="M1135.00,900.50 L1910.50,900.50 L1910.50,938.74" fill="none" stroke="#183b52" stroke-width="3" stroke-linejoin="round"/>
<circle cx="1910.70" cy="900.50" r="5.0" fill="#db2a1c"/>
</g>
<rect x="1096.20" y="870.15" width="853.10" height="667.50" fill="none" stroke="#f1f1f1" stroke-width="4.2"/>
<text x="1832.95" y="1427.00" font-size="19.2" text-anchor="start" fill="#333333">F1=0.2</text>
<text x="1832.95" y="1339.50" font-size="19.2" text-anchor="start" fill="#333333">F1=0.4</text>
<text x="1832.95" y="1223.00" font-size="19.2" text-anchor="start" fill="#333333">F1=0.6</text>
<text x="1832.95" y="1062.10" font-size="19.2" text-anchor="start" fill="#333333">F1=0.8</text>
<rect x="1105.5" y="1466" width="286.9" height="61.4" rx="3" ry="3" fill="#f2f2f2" stroke="#dcdcdc" stroke-width="1"/>
<line x1="1113.2" y1="1481.8" x2="1151.1" y2="1481.8" stroke="#e5446d" stroke-width="5.6" stroke-dasharray="5.6 8.9"/>
<line x1="1113.2" y1="1509.5" x2="1151.1" y2="1509.5" stroke="#183b52" stroke-width="3"/>
<text x="1166.10" y="1488.20" font-size="19.3" text-anchor="start" fill="#333333">F1 curves</text>
<text x="1166.10" y="1516.40" font-size="19.3" text-anchor="start" fill="#333333">PR curve (area = 1.00)</text>
<text x="1523.00" y="1583.80" font-size="23.3" text-anchor="middle" fill="#333333">Recall</text>
<text transform="translate(1051.2,1203.9) rotate(-90)" x="0" y="0" font-size="23.0" text-anchor="middle" fill="#333333">Precision</text>
</g>
<text x="490.50" y="841.50" font-family="'Liberation Serif','Times New Roman',serif" font-weight="bold" font-size="41" text-anchor="middle" fill="#000000">(a)</text>
<text x="1508.00" y="841.50" font-family="'Liberation Serif','Times New Roman',serif" font-weight="bold" font-size="41" text-anchor="middle" fill="#000000">(b)</text>
<text x="490.60" y="1633.20" font-family="'Liberation Serif','Times New Roman',serif" font-weight="bold" font-size="41" text-anchor="middle" fill="#000000">(c)</text>
<text x="1508.20" y="1633.20" font-family="'Liberation Serif','Times New Roman',serif" font-weight="bold" font-size="41" text-anchor="middle" fill="#000000">(d)</text>
</svg>
</body></html>
